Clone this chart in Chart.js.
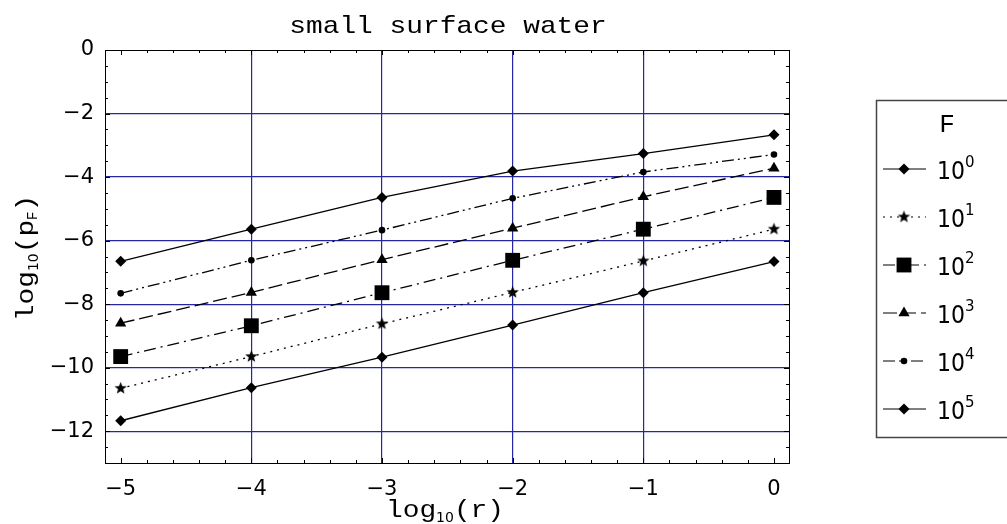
<!DOCTYPE html>
<html>
<head>
<meta charset="utf-8">
<title>small surface water</title>
<script src="https://cdn.jsdelivr.net/npm/chart.js@4/dist/chart.umd.min.js"></script>
<style>
  html, body { margin: 0; padding: 0; background: #fff; }
  canvas { display: block; }
</style>
</head>
<body>
<canvas id="chart" width="1007" height="524"></canvas>
<script>
// log10(r) positions
const R_LOG = [-5, -4, -3, -2, -1, 0];

// log10(pF) for each F = 10^k
const F_EXP = ['0', '1', '2', '3', '4', '5'];
const P_F0 = [-6.65, -5.64, -4.64, -3.81, -3.26, -2.67];
const P_F1 = [-10.65, -9.65, -8.62, -7.63, -6.64, -5.64];
const P_F2 = [-9.65, -8.68, -7.64, -6.62, -5.64, -4.64];
const P_F3 = [-8.6, -7.63, -6.6, -5.61, -4.62, -3.72];
const P_F4 = [-7.66, -6.62, -5.67, -4.67, -3.84, -3.29];
const P_F5 = [-11.67, -10.63, -9.67, -8.66, -7.64, -6.66];

const X_TICKS = [-5, -4, -3, -2, -1, 0];
const Y_TICKS = [-12, -10, -8, -6, -4, -2, 0];

const COURIER = '"Liberation Mono", "DejaVu Sans Mono", monospace';
const SANS = '"DejaVu Sans", "Liberation Sans", sans-serif';
const GRID = '#2626a4';

function starCanvas(r) {
  const s = Math.ceil(r * 2) + 2;
  const c = document.createElement('canvas');
  c.width = s;
  c.height = s;
  const g = c.getContext('2d');
  g.fillStyle = '#000';
  g.beginPath();
  for (let k = 0; k < 10; k++) {
    const rad = k % 2 ? r * 0.42 : r;
    const a = -Math.PI / 2 + k * Math.PI / 5;
    g.lineTo(s / 2 + rad * Math.cos(a), s / 2 + rad * Math.sin(a));
  }
  g.closePath();
  g.fill();
  return c;
}

const STAR = starCanvas(6.5);

const SERIES = [
  { data: P_F0, style: 'rectRot', radius: 5.5, dash: [] },
  { data: P_F1, style: STAR, radius: 6, dash: [2, 5] },
  { data: P_F2, style: 'rect', radius: 10.5, dash: [12, 5, 2, 5] },
  { data: P_F3, style: 'triangle', radius: 6.5, dash: [14, 5] },
  { data: P_F4, style: 'circle', radius: 3.3, dash: [12, 4, 2, 4, 2, 4] },
  { data: P_F5, style: 'rectRot', radius: 5.5, dash: [] }
];

// draw a run of text pieces, each with its own font, stretch and baseline shift
function drawParts(ctx, parts, x, y, align) {
  const widths = parts.map(p => {
    ctx.font = p.font;
    return ctx.measureText(p.t).width * (p.sx || 1);
  });
  const total = widths.reduce((a, b) => a + b, 0);
  let cx = align === 'center' ? x - total / 2 : x;
  parts.forEach((p, i) => {
    ctx.save();
    ctx.font = p.font;
    ctx.textBaseline = 'alphabetic';
    ctx.textAlign = 'left';
    ctx.translate(cx, y + (p.dy || 0));
    ctx.scale(p.sx || 1, p.sy || 1);
    ctx.fillText(p.t, 0, 0);
    ctx.restore();
    cx += widths[i];
  });
}

const decorPlugin = {
  id: 'decor',
  afterDraw(chart) {
    const ctx = chart.ctx;
    const a = chart.chartArea;
    const xs = chart.scales.x;
    const ys = chart.scales.y;
    ctx.save();

    // frame
    ctx.strokeStyle = '#000';
    ctx.lineWidth = 1;
    ctx.setLineDash([]);
    ctx.strokeRect(a.left + 0.5, a.top + 0.5, a.right - a.left, a.bottom - a.top);

    // inward ticks on all four sides
    ctx.beginPath();
    for (let v = -5; v <= 0.001; v += 0.2) {
      const major = Math.abs(v - Math.round(v)) < 0.01;
      const len = major ? 5 : 3;
      const px = Math.round(xs.getPixelForValue(v)) + 0.5;
      ctx.moveTo(px, a.bottom); ctx.lineTo(px, a.bottom - len);
      ctx.moveTo(px, a.top); ctx.lineTo(px, a.top + len);
    }
    for (let v = -13; v <= 0.001; v += 0.5) {
      const major = Math.abs(v / 2 - Math.round(v / 2)) < 0.01;
      const len = major ? 5 : 3;
      const py = Math.round(ys.getPixelForValue(v)) + 0.5;
      ctx.moveTo(a.left, py); ctx.lineTo(a.left + len, py);
      ctx.moveTo(a.right, py); ctx.lineTo(a.right - len, py);
    }
    ctx.stroke();

    ctx.fillStyle = '#000';
    // title
    drawParts(ctx, [{ t: 'small surface water', font: '24px ' + COURIER, sx: 1.16 }],
      448, 33, 'center');

    // x axis title
    drawParts(ctx, [
      { t: 'log', font: '24px ' + COURIER, sx: 1.16 },
      { t: '10', font: '14px ' + SANS, dy: 5 },
      { t: '(r)', font: '24px ' + COURIER, sx: 1.16 }
    ], 445, 517, 'center');

    // y axis title
    ctx.save();
    ctx.translate(33, 258);
    ctx.rotate(-Math.PI / 2);
    drawParts(ctx, [
      { t: 'log', font: '24px ' + COURIER, sx: 1.16 },
      { t: '10', font: '14px ' + SANS, dy: 5 },
      { t: '(p', font: '24px ' + COURIER, sx: 1.16 },
      { t: 'F', font: '14px ' + COURIER, dy: 4 },
      { t: ')', font: '24px ' + COURIER, sx: 1.16 }
    ], 0, 0, 'center');
    ctx.restore();

    // legend
    ctx.strokeStyle = '#444';
    ctx.lineWidth = 1.5;
    ctx.strokeRect(876.5, 100.5, 200, 337);
    drawParts(ctx, [{ t: 'F', font: '26px ' + COURIER }], 947, 132, 'center');
    chart.data.datasets.forEach((ds, i) => {
      const y = 169 + i * 48;
      ctx.strokeStyle = '#000';
      ctx.lineWidth = 1.2;
      ctx.setLineDash(ds.borderDash);
      ctx.beginPath();
      ctx.moveTo(883, y);
      ctx.lineTo(926, y);
      ctx.stroke();
      ctx.setLineDash([]);
      ctx.fillStyle = '#000';
      Chart.helpers.drawPoint(ctx, {
        pointStyle: ds.pointStyle,
        radius: ds.pointRadius,
        rotation: 0,
        borderWidth: 0
      }, 904, y);
      drawParts(ctx, [
        { t: '10', font: '22px ' + SANS, sy: 1.12 },
        { t: F_EXP[i], font: '15px ' + SANS, dy: -12 }
      ], 937, y + 10, 'left');
    });

    ctx.restore();
  }
};

new Chart(document.getElementById('chart'), {
  type: 'line',
  data: {
    datasets: SERIES.map((s, i) => ({
      label: '10^' + F_EXP[i],
      data: R_LOG.map((x, j) => ({ x, y: s.data[j] })),
      borderColor: '#000',
      backgroundColor: '#000',
      borderWidth: 1.3,
      borderDash: s.dash,
      pointStyle: s.style,
      pointRadius: s.radius,
      pointBorderWidth: 0,
      pointBackgroundColor: '#000',
      tension: 0,
      fill: false
    }))
  },
  options: {
    responsive: false,
    animation: false,
    devicePixelRatio: 1,
    layout: { padding: { left: 0, right: 218, top: 50, bottom: 0 } },
    plugins: {
      legend: { display: false },
      title: { display: false },
      tooltip: { enabled: false }
    },
    scales: {
      x: {
        type: 'linear',
        min: -5.12,
        max: 0.115,
        afterBuildTicks: scale => { scale.ticks = X_TICKS.map(v => ({ value: v })); },
        afterFit: scale => { scale.height = 61; },
        ticks: {
          color: '#000',
          font: { family: SANS, size: 21 },
          padding: 14,
          maxRotation: 0,
          callback: v => String(v).replace('-', '\u2212')
        },
        grid: {
          drawTicks: false,
          lineWidth: 1.2,
          color: c => (c.tick && (c.tick.value === -5 || c.tick.value === 0)) ? 'rgba(0,0,0,0)' : GRID
        },
        border: { display: true, color: '#000', width: 1 }
      },
      y: {
        type: 'linear',
        min: -13,
        max: 0,
        afterBuildTicks: scale => { scale.ticks = Y_TICKS.map(v => ({ value: v })); },
        afterFit: scale => { scale.width = 105; },
        ticks: {
          color: '#000',
          font: { family: SANS, size: 21 },
          padding: 11,
          callback: v => String(v).replace('-', '\u2212')
        },
        grid: {
          drawTicks: false,
          lineWidth: 1.2,
          color: c => (c.tick && c.tick.value === 0) ? 'rgba(0,0,0,0)' : GRID
        },
        border: { display: true, color: '#000', width: 1 }
      }
    }
  },
  plugins: [decorPlugin]
});
</script>
</body>
</html>
